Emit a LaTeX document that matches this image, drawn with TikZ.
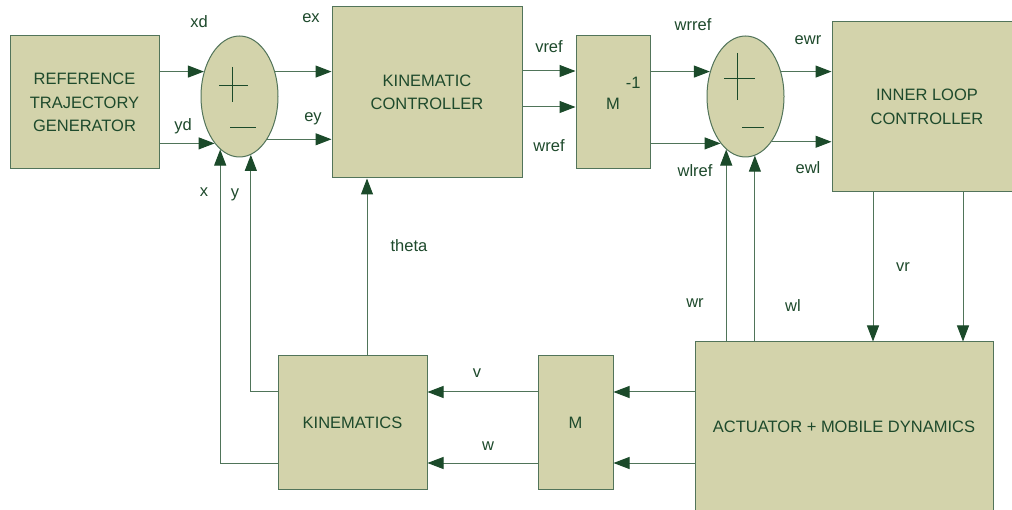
\documentclass[tikz,border=0pt]{standalone}
\usepackage{fontspec}
\setmainfont{Liberation Sans}
\usetikzlibrary{arrows.meta,shapes.geometric}
\definecolor{boxfill}{HTML}{D3D3AB}
\definecolor{boxline}{HTML}{52745A}
\definecolor{lc}{HTML}{4F7459}
\definecolor{tipc}{HTML}{1B4A2A}
\definecolor{txt}{HTML}{1E4A2C}
\begin{document}
\begin{tikzpicture}[x=1pt,y=-1pt,
  font=\fontsize{16.5}{23.5}\selectfont, text=txt,
  box/.style={draw=boxline, fill=boxfill, line width=1pt, inner sep=0pt, align=center},
  sum/.style={ellipse, draw=boxline, fill=boxfill, line width=1pt, inner sep=0pt,
              minimum width=77pt, minimum height=121pt},
  arr/.style={draw=lc, line width=1pt, -{Triangle[length=16pt,width=12pt,fill=tipc,color=tipc]}},
  sign/.style={draw=tipc, line width=1pt},
  lab/.style={inner sep=0pt}]
\useasboundingbox (0,0) rectangle (1012,510);
\clip (0,0) rectangle (1012,510);
\fill[white] (0,0) rectangle (1012,510);

% blocks
\node[box, minimum width=149pt, minimum height=133pt] (ref) at (84.5,102.5) {REFERENCE\\TRAJECTORY\\GENERATOR};
\node[sum] (e1) at (239.5,96.5) {};
\node[box, minimum width=190pt, minimum height=171pt] (ctrl) at (427,92.5) {KINEMATIC\\CONTROLLER};
\node[box, minimum width=74pt, minimum height=133pt] (minv) at (613,102.5) {};
\node[lab, anchor=base west] at (606,110) {M\hspace{6pt}\raisebox{21pt}{-1}};
\node[sum] (e2) at (745.5,96.5) {};
\node[box, minimum width=190pt, minimum height=170pt] (inner) at (927,107) {INNER LOOP\\CONTROLLER};
\node[box, minimum width=298pt, minimum height=170pt] (act) at (844,427) {ACTUATOR + MOBILE DYNAMICS};
\node[box, minimum width=75pt, minimum height=133pt] (M) at (575.5,422.5) {M};
\node[box, minimum width=149pt, minimum height=133pt] (kin) at (352.5,422.5) {KINEMATICS};

% signs
\draw[sign] (219,86) -- (248,86) (232,67) -- (232,102);
\draw[sign] (230,128) -- (256,128);
\draw[sign] (724,79) -- (755,79) (737,53) -- (737,100);
\draw[sign] (742,128) -- (764,128);

% connectors
\draw[arr] (ref.east |- e1.145) -- (e1.145);
\draw[arr] (ref.east |- e1.242) -- (e1.242);
\draw[arr] (e1.35) -- (ctrl.west |- e1.35);
\draw[arr] (e1.303) -- (ctrl.west |- e1.303);
\coordinate (c1) at ([yshift=31.5pt]minv.west);
\coordinate (c2) at ([yshift=-4.5pt]minv.west);
\draw[arr] (ctrl.east |- c1) -- (c1);
\draw[arr] (ctrl.east |- c2) -- (c2);
\draw[arr] (minv.east |- e2.145) -- (e2.145);
\draw[arr] (minv.east |- e2.242) -- (e2.242);
\draw[arr] (e2.35) -- (inner.west |- e2.35);
\draw[arr] (e2.300) -- (inner.west |- e2.300);
\coordinate (v1) at ([xshift=-54pt]inner.south);
\coordinate (v2) at ([xshift=36pt]inner.south);
\draw[arr] (v1) -- (v1 |- act.north);
\draw[arr] (v2) -- (v2 |- act.north);
\draw[arr] (act.north -| e2.250) -- (e2.250);
\draw[arr] (act.north -| e2.279) -- (e2.279);
\coordinate (m1) at ([yshift=30.5pt]M.east);
\coordinate (m2) at ([yshift=-40.5pt]M.east);
\draw[arr] (act.west |- m1) -- (m1);
\draw[arr] (act.west |- m2) -- (m2);
\draw[arr] (M.west |- m1) -- (kin.east |- m1);
\draw[arr] (M.west |- m2) -- (kin.east |- m2);
\draw[arr] (kin.west |- m1) -| (e1.281);
\draw[arr] (kin.west |- m2) -| (e1.250);
\coordinate (th) at ([xshift=14.5pt]kin.north);
\draw[arr] (th) -- (th |- ctrl.south);

% labels
\node[lab] at (199,22) {xd};
\node[lab] at (183,126) {yd};
\node[lab] at (311,18) {ex};
\node[lab] at (313,119) {ey};
\node[lab] at (204,192) {x};
\node[lab] at (235,195) {y};
\node[lab] at (549,47) {vref};
\node[lab] at (549,146) {wref};
\node[lab] at (693,25) {wrref};
\node[lab] at (695,171) {wlref};
\node[lab] at (808,40) {ewr};
\node[lab] at (808,168) {ewl};
\node[lab] at (409,246) {theta};
\node[lab] at (903,267) {vr};
\node[lab] at (695,303) {wr};
\node[lab] at (793,306) {wl};
\node[lab] at (477,373) {v};
\node[lab] at (488,446) {w};
\end{tikzpicture}
\end{document}
